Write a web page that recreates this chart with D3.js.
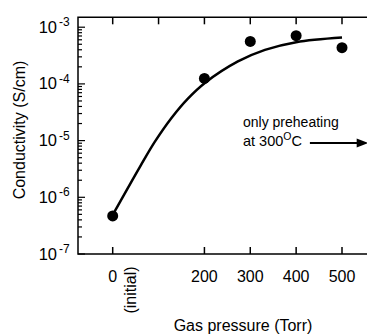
<!DOCTYPE html>
<html>
<head>
<meta charset="utf-8">
<script src="https://cdn.jsdelivr.net/npm/d3@7"></script>
<style>
  body { margin: 0; background: #fff; }
  text { font-family: "Liberation Sans", Arial, sans-serif; fill: #000; }
</style>
</head>
<body>
<div id="chart"></div>
<script>
/* measured points */
var pressure = [0, 200, 300, 400, 500];
var conductivity = [4.7e-7, 1.25e-4, 5.6e-4, 7.1e-4, 4.35e-4];

/* fitted curve */
var fitPressure = [0, 60, 92, 129, 164, 201, 273, 332, 400, 500];
var fitConductivity = [4.88e-7, 3.51e-6, 9.57e-6, 2.56e-5, 5.51e-5, 1.04e-4, 2.49e-4, 3.98e-4, 5.44e-4, 6.56e-4];

var bottomTicks = [0, 200, 300, 400, 500];
var topTicks = [0, 100, 200, 300, 400, 500];
var yExponents = [-3, -4, -5, -6, -7];

var width = 367, height = 336;
var plotLeft = 78, plotTop = 17.3, plotBottom = 254;

var x = d3.scaleLinear().domain([0, 500]).range([112.7, 342]);
var xMin = x.invert(plotLeft), xMax = x.invert(width + 10);
var y = d3.scaleLog().domain([1e-7, Math.pow(10, -7 + (plotBottom - plotTop) / 56.7)]).range([plotBottom, plotTop]);

var svg = d3.select("#chart").append("svg")
    .attr("width", width)
    .attr("height", height);

/* frame: left, top, bottom (right side is cut off) */
svg.append("path")
    .attr("fill", "none")
    .attr("stroke", "#000")
    .attr("stroke-width", 1.5)
    .attr("d", "M" + x(xMax) + "," + plotTop + "H" + x(xMin) + "V" + plotBottom + "H" + x(xMax));

/* x ticks, pointing inward */
svg.selectAll(".btick").data(bottomTicks).enter().append("line")
    .attr("x1", function(d) { return x(d); })
    .attr("x2", function(d) { return x(d); })
    .attr("y1", plotBottom)
    .attr("y2", plotBottom - 7)
    .attr("stroke", "#000").attr("stroke-width", 1.5);

svg.selectAll(".ttick").data(topTicks).enter().append("line")
    .attr("x1", function(d) { return x(d); })
    .attr("x2", function(d) { return x(d); })
    .attr("y1", plotTop)
    .attr("y2", plotTop + 7)
    .attr("stroke", "#000").attr("stroke-width", 1.5);

/* y ticks, major + minor */
var yTicks = [];
yExponents.forEach(function(e) {
    for (var m = 1; m < 10; m++) {
        var v = m * Math.pow(10, e);
        if (v <= y.domain()[1] && v >= y.domain()[0]) yTicks.push({ v: v, major: m === 1 });
    }
});
svg.selectAll(".ytick").data(yTicks).enter().append("line")
    .attr("x1", plotLeft)
    .attr("x2", function(d) { return plotLeft + (d.major ? 7 : 4); })
    .attr("y1", function(d) { return y(d.v); })
    .attr("y2", function(d) { return y(d.v); })
    .attr("stroke", "#000").attr("stroke-width", 1.2);

/* y tick labels 10^n */
var ylab = svg.selectAll(".ylab").data(yExponents).enter().append("g");
ylab.append("text")
    .attr("x", 57)
    .attr("y", function(d) { return y(Math.pow(10, d)) + 5.5; })
    .attr("text-anchor", "end")
    .attr("font-size", 16.5)
    .text("10");
ylab.append("text")
    .attr("x", 59)
    .attr("y", function(d) { return y(Math.pow(10, d)) - 1; })
    .attr("font-size", 12)
    .text(function(d) { return "-" + (-d); });

/* x tick labels */
svg.selectAll(".xlab").data(bottomTicks).enter().append("text")
    .attr("x", function(d) { return x(d); })
    .attr("y", 282)
    .attr("text-anchor", "middle")
    .attr("font-size", 16)
    .text(function(d) { return d; });

svg.append("text")
    .attr("transform", "translate(" + (x(0) + 23) + ",290)rotate(-90)")
    .attr("text-anchor", "middle")
    .attr("font-size", 16)
    .text("(initial)");

/* axis titles */
svg.append("text")
    .attr("x", 243)
    .attr("y", 331)
    .attr("text-anchor", "middle")
    .attr("font-size", 16)
    .text("Gas pressure (Torr)");

svg.append("text")
    .attr("transform", "translate(25,130)rotate(-90)")
    .attr("text-anchor", "middle")
    .attr("font-size", 16)
    .text("Conductivity (S/cm)");

/* fitted curve */
var line = d3.line()
    .x(function(d, i) { return x(fitPressure[i]); })
    .y(function(d) { return y(d); })
    .curve(d3.curveCatmullRom.alpha(0.5));

svg.append("path")
    .datum(fitConductivity)
    .attr("fill", "none")
    .attr("stroke", "#000")
    .attr("stroke-width", 2.5)
    .attr("d", line);

/* measured points */
svg.selectAll(".dot").data(conductivity).enter().append("circle")
    .attr("cx", function(d, i) { return x(pressure[i]); })
    .attr("cy", function(d) { return y(d); })
    .attr("r", 5.5)
    .attr("fill", "#000");

/* annotation */
svg.append("text")
    .attr("x", 243)
    .attr("y", 127)
    .attr("font-size", 14)
    .text("only preheating");

var note = svg.append("text")
    .attr("x", 243)
    .attr("y", 146)
    .attr("font-size", 14.5);
note.append("tspan").text("at 300");
note.append("tspan").attr("font-size", 10.5).attr("dy", -6).text("O");
note.append("tspan").attr("dy", 6).text("C");

var arrowY = 143;
svg.append("line")
    .attr("x1", x(430)).attr("x2", x(540))
    .attr("y1", arrowY).attr("y2", arrowY)
    .attr("stroke", "#000").attr("stroke-width", 2);
svg.append("path")
    .attr("fill", "#000")
    .attr("d", "M" + x(532) + "," + (arrowY - 4.5) + "L" + x(557) + "," + arrowY + "L" + x(532) + "," + (arrowY + 4.5) + "Z");
</script>
</body>
</html>
